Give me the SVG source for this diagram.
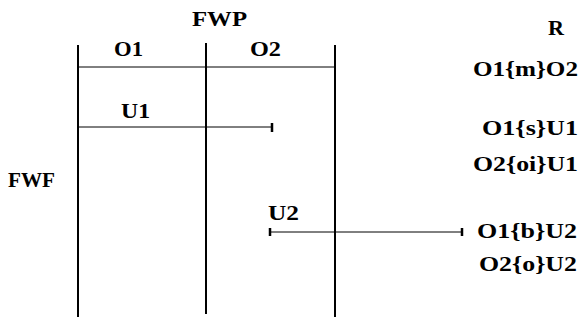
<svg xmlns="http://www.w3.org/2000/svg" width="582" height="321" viewBox="0 0 582 321">
<style>
.v{stroke:#000;stroke-width:2}
.h{stroke:#000;stroke-width:1}
.t{stroke:#000;stroke-width:2.5}
</style>
<rect width="582" height="321" fill="#fff"/>
<g id="frame">
<line class="v" x1="78" y1="45" x2="78" y2="317"/>
<line class="v" x1="206" y1="43" x2="206" y2="314"/>
<line class="v" x1="335" y1="45" x2="335" y2="317"/>
</g>
<g id="connectors">
<line class="h" x1="78" y1="67" x2="335" y2="67"/>
<line class="h" x1="78" y1="127" x2="272" y2="127"/>
<line class="t" x1="272" y1="123" x2="272" y2="132"/>
<line class="h" x1="270" y1="232" x2="462" y2="232"/>
<line class="t" x1="270" y1="228" x2="270" y2="236"/>
<line class="t" x1="462" y1="228" x2="462" y2="236"/>
</g>
<g id="labels" font-family="Liberation Serif, Times New Roman, serif" font-weight="bold" font-size="21" fill="#000">
<text x="192" y="26" textLength="55" lengthAdjust="spacingAndGlyphs">FWP</text>
<text x="114" y="56" textLength="29" lengthAdjust="spacingAndGlyphs">O1</text>
<text x="250" y="56" textLength="31" lengthAdjust="spacingAndGlyphs">O2</text>
<text x="121" y="118" textLength="29" lengthAdjust="spacingAndGlyphs">U1</text>
<text x="268" y="220" textLength="31" lengthAdjust="spacingAndGlyphs">U2</text>
<text x="8" y="187" textLength="47" lengthAdjust="spacingAndGlyphs">FWF</text>
</g>
<g id="relations" font-family="Liberation Serif, Times New Roman, serif" font-weight="bold" font-size="21" fill="#000">
<text x="548" y="35" textLength="16" lengthAdjust="spacingAndGlyphs">R</text>
<text x="473" y="76" textLength="105" lengthAdjust="spacingAndGlyphs">O1{m}O2</text>
<text x="482" y="135" textLength="96" lengthAdjust="spacingAndGlyphs">O1{s}U1</text>
<text x="473" y="171" textLength="105" lengthAdjust="spacingAndGlyphs">O2{oi}U1</text>
<text x="477" y="238" textLength="100" lengthAdjust="spacingAndGlyphs">O1{b}U2</text>
<text x="479" y="271" textLength="98" lengthAdjust="spacingAndGlyphs">O2{o}U2</text>
</g>
</svg>
